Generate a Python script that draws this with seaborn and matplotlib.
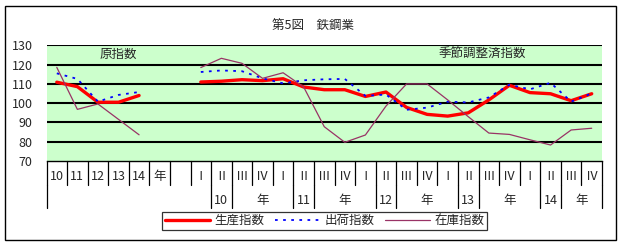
import numpy as np
import pandas as pd
import matplotlib
matplotlib.use("Agg")
import matplotlib.pyplot as plt
import matplotlib.transforms as mtransforms
from matplotlib.patches import Rectangle
import seaborn as sns

# === Données ===
# categories 0-4 : 原指数 (10..14年), 5 : 年, 6 : vide, 7-26 : trimestres 10年I .. 14年IV
row1_labels = ["10", "11", "12", "13", "14", "年", ""] + ["Ⅰ", "Ⅱ", "Ⅲ", "Ⅳ"] * 5
row2_years = ["10", "11", "12", "13", "14"]

raw_x = [0, 1, 2, 3, 4]
raw_prod = [110.9, 108.6, 100.5, 100.5, 104.0]
raw_ship = [115.5, 112.6, 100.8, 104.3, 105.8]
raw_inv = [118.6, 96.8, 99.6, 91.6, 83.6]

sa_x = list(range(7, 27))
sa_prod = [111.0, 111.4, 112.2, 111.7, 112.7, 108.4, 107.0, 107.0, 103.5, 105.8,
           97.8, 94.2, 93.3, 95.0, 101.7, 109.3, 105.5, 104.9, 101.3, 104.9]
sa_ship = [116.2, 117.0, 116.6, 112.9, 110.3, 111.9, 112.4, 112.6, 103.8, 104.5,
           96.6, 97.7, 100.8, 100.4, 103.0, 109.6, 107.2, 110.6, 100.8, 105.1]
sa_inv = [118.5, 123.3, 120.7, 112.9, 115.8, 108.4, 87.8, 79.7, 83.5, 98.5,
          110.0, 110.0, 101.7, 93.0, 84.5, 83.8, 81.0, 78.3, 86.1, 87.0]

series = [
    ("生産指数", raw_prod, sa_prod, dict(color="#FF0000", linewidth=2.4)),
    ("出荷指数", raw_ship, sa_ship, dict(color="#0000FF", linewidth=1.3)),
    ("在庫指数", raw_inv, sa_inv, dict(color="#993366", linewidth=0.9)),
]

sns.set_style("white")
plt.rcParams['font.family'] = ['Noto Sans CJK JP', 'DejaVu Sans']

fig = plt.figure(figsize=(6.24, 2.45), dpi=100)
ax = fig.add_axes([46.5 / 624, 1 - 161 / 245, (602 - 46.5) / 624, (161 - 45.4) / 245])
ax.set_facecolor("#CCFFCC")

for name, raw, sa, style in series:
    for xs, ys, lab in [(raw_x, raw, name), (sa_x, sa, None)]:
        df = pd.DataFrame({"x": xs, "y": ys})
        sns.lineplot(data=df, x="x", y="y", ax=ax, label=lab, zorder=3, **style)

# pointillés pour 出荷指数
for line in ax.get_lines():
    if line.get_color() == "#0000FF":
        line.set_linestyle((0, (1.5, 3)))

ax.set_xlim(-0.5, 26.5)
ax.set_ylim(70, 130)
ax.set_yticks(range(70, 131, 10))
ax.tick_params(axis='y', length=0, pad=10, labelsize=9)
ax.set_xticks([])
ax.set_xlabel("")
ax.set_ylabel("")
for y in range(80, 131, 10):
    ax.axhline(y, color="black", linewidth=1.5, zorder=1)
for s in ["left", "right", "top"]:
    ax.spines[s].set_visible(False)
ax.spines["bottom"].set_linewidth(1.0)
ax.spines["bottom"].set_color("black")
ax.get_legend().remove()

# tableau des catégories sous l'axe
trans = mtransforms.blended_transform_factory(ax.transData, ax.transAxes)
n = len(row1_labels)
r1 = -0.2076
r2 = -0.407
for i in range(n + 1):
    ax.plot([i - 0.5, i - 0.5], [0, r1], color="black", lw=0.9, transform=trans, clip_on=False)
for i in [0, 8, 9, 12, 13, 16, 17, 20, 21, 24, 25, 27]:
    ax.plot([i - 0.5, i - 0.5], [r1, r2], color="black", lw=0.9, transform=trans, clip_on=False)
for i, lab in enumerate(row1_labels):
    ax.text(i, -0.138, lab, transform=trans, ha="center", va="center", fontsize=9)
for k, yr in enumerate(row2_years):
    ax.text(8 + 4 * k, -0.346, yr, transform=trans, ha="center", va="center", fontsize=9)
    ax.text(10 + 4 * k if k < 4 else 25.5, -0.346, "年", transform=trans,
            ha="center", va="center", fontsize=9)

ax.text(3.0, 125.5, "原指数", fontsize=9, ha="center", va="center")
ax.text(20.7, 125.5, "季節調整済指数", fontsize=9, ha="center", va="center")

fig.text(313 / 624, 1 - 25 / 245, "第5図　鉄鋼業", ha="center", va="center", fontsize=9)

handles, labels = ax.get_legend_handles_labels()
leg = fig.legend(handles, labels, loc="center", bbox_to_anchor=(324.5 / 624, 1 - 220.5 / 245),
                 ncol=3, fontsize=9, frameon=True, fancybox=False, edgecolor="black",
                 handlelength=3.6, columnspacing=0.8, handletextpad=0.4,
                 borderpad=0.2, borderaxespad=0)
leg.get_frame().set_linewidth(0.9)

fig.add_artist(Rectangle((5 / 624, 1 - 240 / 245), (616 - 5) / 624, (240 - 6) / 245,
                         transform=fig.transFigure, fill=False, lw=1, ec="black"))

fig.savefig("out.png", dpi=100)
plt.close()
